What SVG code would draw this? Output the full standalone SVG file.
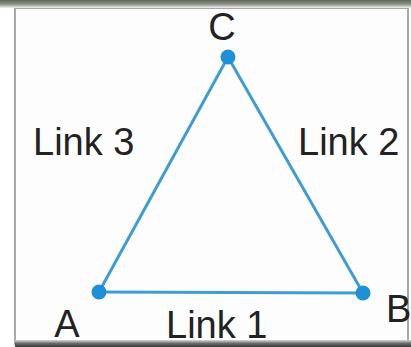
<svg xmlns="http://www.w3.org/2000/svg" width="411" height="347" viewBox="0 0 411 347">
<defs>
<linearGradient id="topband" x1="0" y1="0" x2="0" y2="1">
<stop offset="0" stop-color="#5f6658"/>
<stop offset="0.5" stop-color="#8a8e84"/>
<stop offset="1" stop-color="#f2f2f0"/>
</linearGradient>
<linearGradient id="botband" x1="0" y1="0" x2="0" y2="1">
<stop offset="0" stop-color="#d8d8d8"/>
<stop offset="0.5" stop-color="#6a6a6a"/>
<stop offset="1" stop-color="#3a3a3a"/>
</linearGradient>
</defs>
<style>
.link{stroke:#3f9dcf;stroke-width:3;stroke-linecap:round;fill:none}
.node{fill:#1e90d8}
.lbl{font-family:"Liberation Sans",Arial,Helvetica,sans-serif;font-size:38px;fill:#222222}
</style>
<rect x="0" y="0" width="411" height="347" fill="#ffffff"/>
<rect x="15" y="8" width="393" height="336" fill="#fdfdfd" stroke="#a8a8a8" stroke-width="2"/>
<rect x="0" y="0" width="411" height="8" fill="url(#topband)"/>
<rect x="15" y="340" width="396" height="7" fill="url(#botband)"/>
<g id="connectors">
<line class="link" x1="99" y1="292" x2="228" y2="57"/>
<line class="link" x1="228" y1="57" x2="363" y2="293"/>
<line class="link" x1="99" y1="292" x2="363" y2="293" stroke="#5b9fc9" stroke-width="4"/>
</g>
<g id="node-C">
<circle class="node" cx="228" cy="57" r="7.5"/>
<text class="lbl" x="222" y="40" text-anchor="middle">C</text>
</g>
<g id="node-A">
<circle class="node" cx="99" cy="292" r="7.5"/>
<text class="lbl" x="67" y="337" text-anchor="middle">A</text>
</g>
<g id="node-B">
<circle class="node" cx="363" cy="293" r="7.5"/>
<text class="lbl" x="386" y="322">B</text>
</g>
<g id="labels">
<text class="lbl" x="33" y="155">Link 3</text>
<text class="lbl" x="298" y="155">Link 2</text>
<text class="lbl" x="166" y="338">Link 1</text>
</g>
</svg>
